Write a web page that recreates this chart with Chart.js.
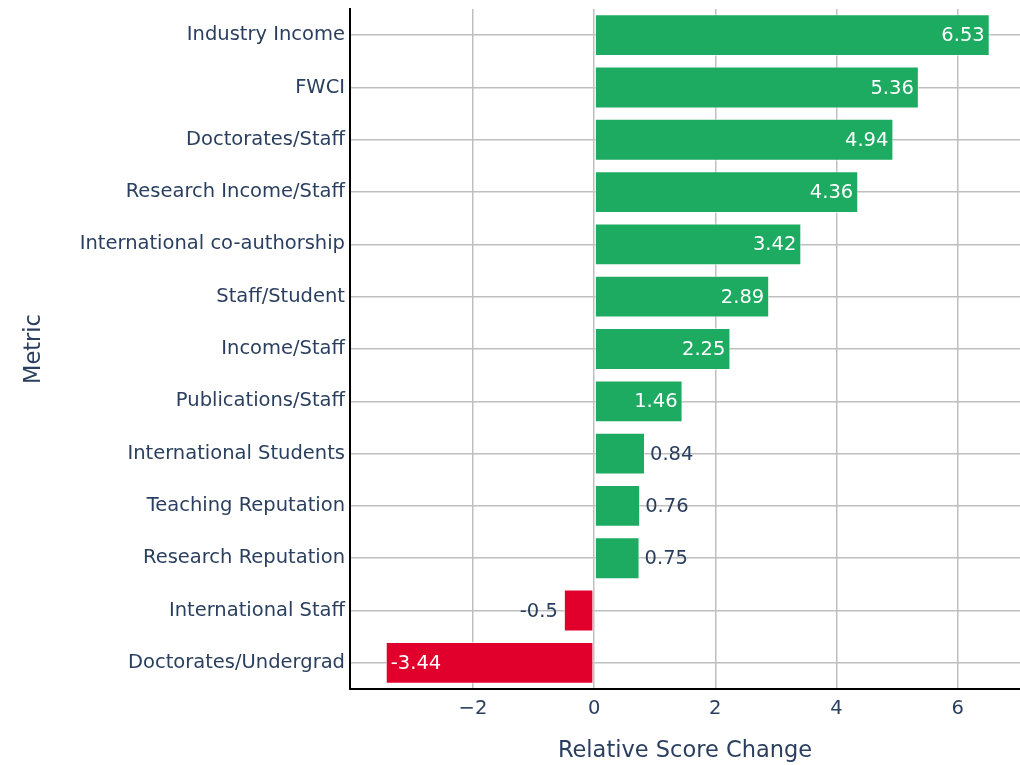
<!DOCTYPE html>
<html>
<head>
<meta charset="utf-8">
<script src="https://cdn.jsdelivr.net/npm/chart.js@4/dist/chart.umd.min.js"></script>
<style>
  html, body { margin: 0; padding: 0; background: #fff; }
  #wrap { width: 1020px; height: 765px; }
</style>
</head>
<body>
<div id="wrap"><canvas id="chart" width="1020" height="765"></canvas></div>
<script>
// metric names, top to bottom
const metrics = [
    'Industry Income',
    'FWCI',
    'Doctorates/Staff',
    'Research Income/Staff',
    'International co-authorship',
    'Staff/Student',
    'Income/Staff',
    'Publications/Staff',
    'International Students',
    'Teaching Reputation',
    'Research Reputation',
    'International Staff',
    'Doctorates/Undergrad'
];
const scoreChange = [6.53, 5.36, 4.94, 4.36, 3.42, 2.89, 2.25, 1.46, 0.84, 0.76, 0.75, -0.5, -3.44];
const xTicks = [-2, 0, 2, 4, 6];

const FONT = '"DejaVu Sans", Verdana, sans-serif';
const TEXT = '#2a3f5f';
const GREEN = '#1DAA61';
const RED = '#E0002B';
const GRID = '#bfbfbf';

const labelPlugin = {
    id: 'barLabels',
    afterDatasetsDraw(chart) {
        const ctx = chart.ctx;
        const meta = chart.getDatasetMeta(0);
        ctx.save();
        ctx.font = '19.5px ' + FONT;
        ctx.textBaseline = 'middle';
        meta.data.forEach((bar, i) => {
            const v = scoreChange[i];
            const txt = String(v);
            const tw = ctx.measureText(txt).width;
            const barW = Math.abs(bar.x - bar.base);
            const inside = tw + 14 < barW;
            const y = bar.y + 1;
            if (inside) {
                ctx.fillStyle = '#ffffff';
                if (v >= 0) { ctx.textAlign = 'right'; ctx.fillText(txt, bar.x - 5, y); }
                else { ctx.textAlign = 'left'; ctx.fillText(txt, bar.x + 5, y); }
            } else {
                ctx.fillStyle = TEXT;
                if (v >= 0) { ctx.textAlign = 'left'; ctx.fillText(txt, bar.x + 5, y); }
                else { ctx.textAlign = 'right'; ctx.fillText(txt, bar.x - 6, y); }
            }
        });
        ctx.restore();
    },
    afterDraw(chart) {
        const ctx = chart.ctx;
        const area = chart.chartArea;
        ctx.save();
        ctx.fillStyle = TEXT;
        ctx.font = '22.5px ' + FONT;
        ctx.textAlign = 'center';
        ctx.textBaseline = 'middle';
        ctx.fillText('Relative Score Change', (area.left + area.right) / 2, 751);
        ctx.translate(34, (area.top + area.bottom) / 2);
        ctx.rotate(-Math.PI / 2);
        ctx.fillText('Metric', 0, 0);
        ctx.restore();
    }
};

new Chart(document.getElementById('chart'), {
    type: 'bar',
    data: {
        labels: metrics,
        datasets: [{
            data: scoreChange,
            backgroundColor: scoreChange.map(v => v >= 0 ? GREEN : RED),
            borderColor: 'rgba(255,255,255,0.6)',
            borderWidth: 1,
            borderSkipped: false,
            categoryPercentage: 1,
            barPercentage: 0.8
        }]
    },
    options: {
        indexAxis: 'y',
        responsive: false,
        animation: false,
        layout: { padding: { top: 9, right: 0, left: 0, bottom: 0 } },
        plugins: {
            legend: { display: false },
            tooltip: { enabled: false }
        },
        scales: {
            x: {
                type: 'linear',
                min: -4.03,
                max: 7.03,
                afterFit: s => { s.height = 76; s.paddingLeft = 0; s.paddingRight = 0; },
                afterBuildTicks: s => { s.ticks = xTicks.map(v => ({ value: v })); },
                ticks: {
                    color: TEXT,
                    font: { family: FONT, size: 19.5 },
                    padding: 8,
                    callback: v => String(v).replace('-', '\u2212')
                },
                grid: { color: GRID, lineWidth: 1.5, drawTicks: false },
                border: { display: true, color: '#000', width: 2 }
            },
            y: {
                afterFit: s => { s.width = 350; s.paddingTop = 0; s.paddingBottom = 0; },
                ticks: {
                    color: TEXT,
                    font: { family: FONT, size: 19.5 },
                    padding: 5
                },
                grid: { color: GRID, lineWidth: 1.5, drawTicks: false, offset: false },
                border: { display: true, color: '#000', width: 2 }
            }
        }
    },
    plugins: [labelPlugin]
});
</script>
</body>
</html>
